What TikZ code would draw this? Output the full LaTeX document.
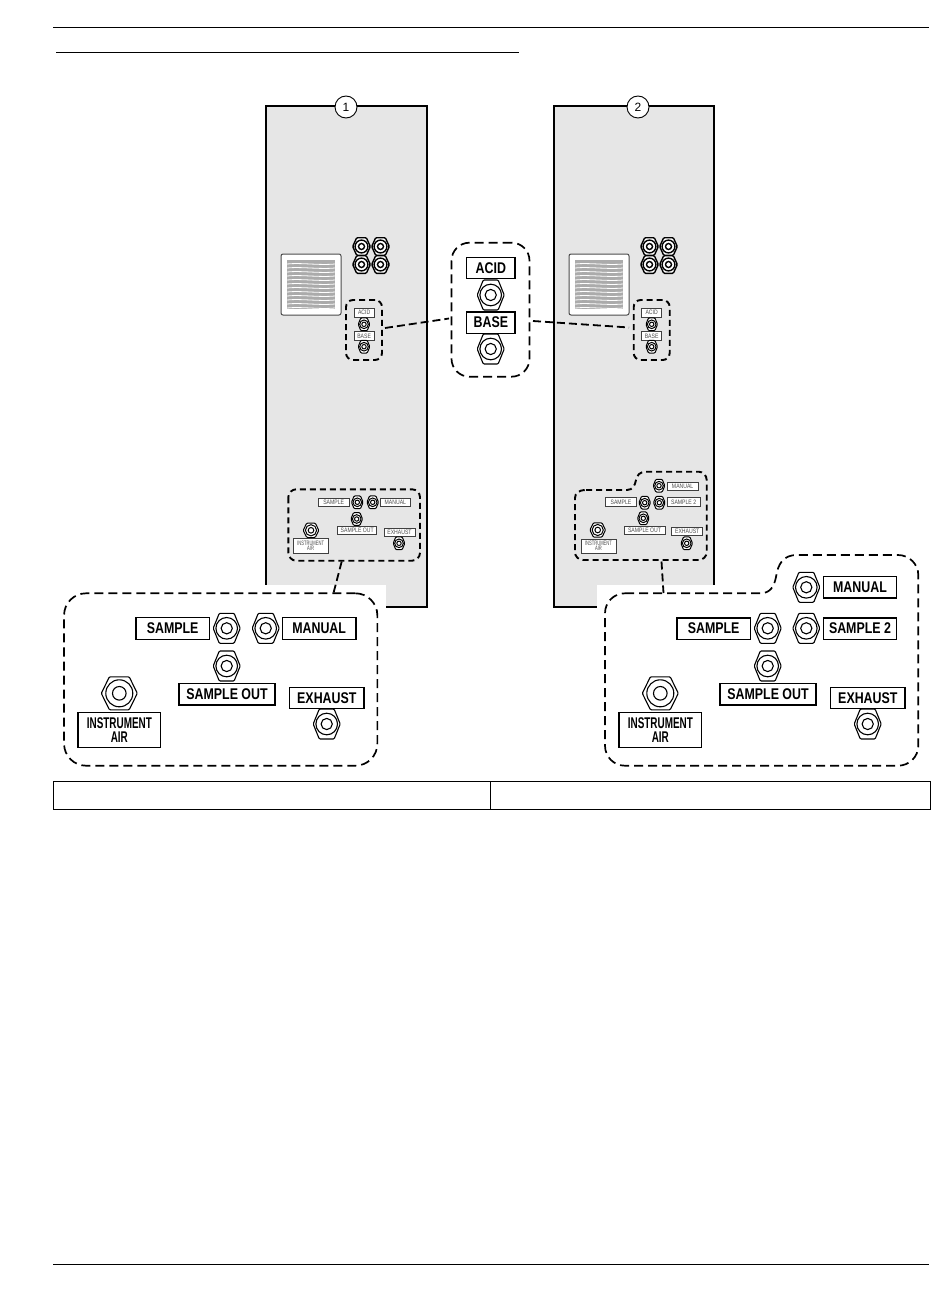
\documentclass[tikz,border=0pt]{standalone}
\usepackage{fontspec}
\usepackage{graphicx}
\setmainfont{Liberation Sans}
\definecolor{panelgray}{HTML}{E6E6E6}
\definecolor{grillgray}{HTML}{ABABAB}
\tikzset{
  panelbox/.style={draw=black,line width=1.5pt,fill=panelgray},
  bigtag/.style={draw=black,line width=1.5pt,fill=white,inner sep=0pt,align=center,font=\fontsize{15.5}{14.5}\selectfont\bfseries},
  smalltag/.style={draw=black!75,line width=.8pt,fill=white,inner sep=0pt,align=center,text=black!70,font=\fontsize{6.4}{6}\selectfont},
  bigdash/.style={draw=black,line width=1.7pt,dash pattern=on 9pt off 5pt},
  smalldash/.style={draw=black,line width=1.9pt,dash pattern=on 6pt off 4pt},
  leader/.style={draw=black,line width=1.8pt,dash pattern=on 8pt off 4pt},
  rulethin/.style={draw=black,line width=.8pt},
  callnum/.style={circle,draw=black,line width=.9pt,fill=white,minimum size=22pt,inner sep=0pt,font=\fontsize{12}{12}\selectfont},
}
% tag box: name, left, top, right, bottom, style, text
\newcommand{\tagbox}[7]{\node[#6,minimum width=#4pt-#2pt,minimum height=#5pt-#3pt,anchor=center] (#1) at ({(#2+#4)/2},{(#3+#5)/2}) {#7};}
\newcommand{\nar}[1]{\scalebox{.8}[1]{#1}}
\newcommand{\narr}[1]{\scalebox{.64}[1]{#1}}
% fitting: name, x, y, half width, half height, outer r, inner r, line width
\newcommand{\fitg}[8]{%
  \coordinate (#1) at (#2,#3);
  \begin{scope}[shift={(#2,#3)},line width=#8pt]
    \draw[fill=white,rounded corners=1pt] (-#4,0) -- ({-#4*.55},-#5) -- ({#4*.55},-#5) -- (#4,0) -- ({#4*.55},#5) -- ({-#4*.55},#5) -- cycle;
    \draw (0,0) circle (#6);
    \draw (0,0) circle (#7);
  \end{scope}}
\newcommand{\bigfit}[3]{\fitg{#1}{#2}{#3}{13.5}{15}{10.8}{5.6}{1.1}}
\newcommand{\airfit}[3]{\fitg{#1}{#2}{#3}{18}{16.5}{13.5}{6.8}{1.1}}
\newcommand{\smfit}[3]{\fitg{#1}{#2}{#3}{5.8}{6.4}{4.3}{2.2}{1}}
\newcommand{\smair}[3]{\fitg{#1}{#2}{#3}{7.8}{7.2}{5.6}{2.8}{1}}
\newcommand{\quadfit}[3]{\fitg{#1}{#2}{#3}{8.8}{8.8}{6.4}{3}{1.4}}
% grille: name, left x
\newcommand{\grille}[2]{%
  \node[draw=black!70,line width=1pt,fill=white,rounded corners=2pt,minimum width=60pt,minimum height=61pt,inner sep=0pt] (#1) at (#2+30,284.5) {};
  \fill[grillgray] (#2+6,260) rectangle (#2+54,309);
  \foreach \yy in {264,268,...,308}{
    \draw[white,line width=.8pt] (#2+6,\yy) .. controls (#2+20,\yy-1.5) and (#2+38,\yy+1.5) .. (#2+54,\yy);
  }}
\begin{document}
\begin{tikzpicture}[x=1pt,y=-1pt]
\useasboundingbox (0,0) rectangle (950,1292);
\fill[white] (0,0) rectangle (950,1292);
% page rules
\coordinate (ruleTopL) at (53,27); \coordinate (ruleTopR) at (929,27);
\coordinate (ruleSubL) at (56,52); \coordinate (ruleSubR) at (519,52);
\coordinate (ruleBotL) at (53,1264); \coordinate (ruleBotR) at (929,1264);
\draw[rulethin] (ruleTopL) -- (ruleTopR);
\draw[rulethin] (ruleSubL) -- (ruleSubR);
\draw[rulethin] (ruleBotL) -- (ruleBotR);
% panels
\draw[panelbox] (266,106) rectangle (427,607);
\draw[panelbox] (554,106) rectangle (714,607);
\node[callnum] (numA) at (346,107) {1};
\node[callnum] (numB) at (638,107) {2};
% white masks behind callouts
\fill[white] (60,585) rectangle (386,770);
\fill[white] (597,585) rectangle (770,770);
% grilles
\grille{grillA}{281}
\grille{grillB}{569}
% quad fittings
\quadfit{qa}{361.5}{246.5}\quadfit{qb}{380.5}{246.5}\quadfit{qc}{361.5}{264.5}\quadfit{qd}{380.5}{264.5}
\quadfit{qe}{649.5}{246.5}\quadfit{qf}{668.5}{246.5}\quadfit{qg}{649.5}{264.5}\quadfit{qh}{668.5}{264.5}
% small acid/base left
\tagbox{sAcidA}{354}{308.3}{374.3}{317}{smalltag}{\nar{ACID}}
\smfit{fAcidA}{364}{324.3}
\tagbox{sBaseA}{354}{331.7}{374.3}{340}{smalltag}{\nar{BASE}}
\smfit{fBaseA}{364}{346.7}
\node[smalldash,rounded corners=7pt,minimum width=36pt,minimum height=60pt,inner sep=0pt] (abA) at (364,330) {};
% small acid/base right
\tagbox{sAcidB}{641.5}{308.3}{661.8}{317}{smalltag}{\nar{ACID}}
\smfit{fAcidB}{651.7}{324.3}
\tagbox{sBaseB}{641.5}{331.7}{661.8}{340}{smalltag}{\nar{BASE}}
\smfit{fBaseB}{651.7}{346.7}
\node[smalldash,rounded corners=7pt,minimum width=36pt,minimum height=60pt,inner sep=0pt] (abB) at (651.7,330) {};
% centre callout
\node[bigdash,rounded corners=18pt,minimum width=78pt,minimum height=134pt,inner sep=0pt] (abBig) at (490.5,309.7) {};
\tagbox{cAcid}{466.7}{257.7}{515}{278.7}{bigtag}{\nar{ACID}}
\bigfit{fAcidC}{490.7}{295}
\tagbox{cBase}{466.7}{312}{515}{333.3}{bigtag}{\nar{BASE}}
\bigfit{fBaseC}{490.7}{349}
\coordinate (lA1) at (385,328); \coordinate (lA2) at (449,318.5);
\coordinate (lB1) at (533,321); \coordinate (lB2) at (629,327.5);
\draw[leader] (lA1) -- (lA2);
\draw[leader] (lB1) -- (lB2);
% small lower group left
\draw[smalldash,rounded corners=8pt] (288.3,489.3) rectangle (420,560.7);
\tagbox{sSampleA}{318.3}{498.3}{349}{506.5}{smalltag}{\nar{SAMPLE}}
\smfit{fSampleA}{357.3}{502.3}
\smfit{fManualA}{372.7}{502.3}
\tagbox{sManualA}{380}{498.3}{410.7}{506.5}{smalltag}{\nar{MANUAL}}
\smfit{fOutA}{356.7}{519}
\tagbox{sOutA}{337.7}{526.3}{376.7}{534.5}{smalltag}{\nar{SAMPLE OUT}}
\smair{fAirA}{311}{530.3}
\tagbox{sAirA}{293.3}{538.7}{328}{553}{smalltag}{\narr{INSTRUMENT}\\[-.5pt]\narr{AIR}}
\tagbox{sExA}{384}{528}{415}{536.2}{smalltag}{\nar{EXHAUST}}
\smfit{fExA}{399}{543.3}
% small lower group right
\draw[smalldash] (586,490) -- (627,490) .. controls (633,490) and (635,485) .. (636,480) .. controls (637,475) and (640,471.7) .. (646,471.7) -- (698.7,471.7) .. controls (703,471.7) and (706.7,475.5) .. (706.7,480) -- (706.7,552) .. controls (706.7,556.5) and (703,560) .. (698.7,560) -- (583,560) .. controls (578.5,560) and (575,556.5) .. (575,552) -- (575,498) .. controls (575,493.5) and (578.5,490) .. (586,490) -- cycle;
\tagbox{sManualB}{667.3}{482}{698}{490.2}{smalltag}{\nar{MANUAL}}
\smfit{fManualB}{659}{485.7}
\tagbox{sSampleB}{605.3}{497.7}{636.7}{506}{smalltag}{\nar{SAMPLE}}
\smfit{fSampleB}{644.7}{502.7}
\smfit{fSampleTwoB}{659.3}{502.7}
\tagbox{sTwoB}{667.3}{497.7}{700}{506}{smalltag}{\nar{SAMPLE 2}}
\smfit{fOutB}{643.3}{518.3}
\tagbox{sOutB}{624}{526}{665}{534.2}{smalltag}{\nar{SAMPLE OUT}}
\smair{fAirB}{597.7}{530}
\tagbox{sAirB}{581}{539}{616}{553}{smalltag}{\narr{INSTRUMENT}\\[-.5pt]\narr{AIR}}
\tagbox{sExB}{671.7}{527.3}{702.7}{535.5}{smalltag}{\nar{EXHAUST}}
\smfit{fExB}{686.7}{543.3}
% left big callout
\coordinate (lC1) at (341.7,561.5); \coordinate (lC2) at (333.5,593);
\draw[leader] (lC1) -- (lC2);
\node[bigdash,rounded corners=22pt,minimum width=313.3pt,minimum height=172.4pt,inner sep=0pt] (bigA) at (220.7,679.5) {};
\tagbox{tSampleA}{136}{617.7}{209.3}{639.3}{bigtag}{\nar{SAMPLE}}
\bigfit{gSampleA}{226.7}{628.3}
\bigfit{gManualA}{265.7}{628.3}
\tagbox{tManualA}{282.3}{617.7}{356}{639.3}{bigtag}{\nar{MANUAL}}
\bigfit{gOutA}{226.7}{666}
\tagbox{tOutA}{179}{683.3}{275}{705}{bigtag}{\nar{SAMPLE OUT}}
\airfit{gAirA}{119.3}{693.3}
\tagbox{tAirA}{78}{712.7}{160.7}{747.3}{bigtag}{\narr{INSTRUMENT}\\[-1pt]\narr{AIR}}
\tagbox{tExA}{289.7}{687.3}{364}{708.7}{bigtag}{\nar{EXHAUST}}
\bigfit{gExA}{326.7}{724}
% right big callout
\coordinate (lD1) at (661.5,561.5); \coordinate (lD2) at (663.5,593);
\draw[leader] (lD1) -- (lD2);
\draw[bigdash] (625,593.3) -- (760,593.3) .. controls (770,593.3) and (774,587) .. (776,577) .. controls (778,564) and (783,555) .. (797,555) -- (898,555) .. controls (909,555) and (918.3,564) .. (918.3,575) -- (918.3,745.7) .. controls (918.3,757) and (909,765.7) .. (898,765.7) -- (625,765.7) .. controls (614,765.7) and (605,757) .. (605,745.7) -- (605,613.3) .. controls (605,602) and (614,593.3) .. (625,593.3) -- cycle;
\tagbox{tManualB}{823.3}{576.7}{896.7}{598}{bigtag}{\nar{MANUAL}}
\bigfit{gManualB}{806.3}{587.3}
\tagbox{tSampleB}{677}{618}{750.3}{639.3}{bigtag}{\nar{SAMPLE}}
\bigfit{gSampleB}{767.7}{628.3}
\bigfit{gTwoB}{806.3}{628.3}
\tagbox{tTwoB}{823.3}{618}{896.7}{639.3}{bigtag}{\nar{SAMPLE 2}}
\bigfit{gOutB}{767.7}{666}
\tagbox{tOutB}{720}{683.3}{816}{705}{bigtag}{\nar{SAMPLE OUT}}
\airfit{gAirB}{660.3}{693.3}
\tagbox{tAirB}{619}{712.7}{701.7}{747.3}{bigtag}{\narr{INSTRUMENT}\\[-1pt]\narr{AIR}}
\tagbox{tExB}{830.7}{687.3}{905}{708.7}{bigtag}{\nar{EXHAUST}}
\bigfit{gExB}{867.7}{724}
% table
\draw[black,line width=1pt] (53,781) rectangle (930,809);
\coordinate (tabT) at (490.5,781); \coordinate (tabB) at (490.5,809);
\draw[black,line width=1pt] (tabT) -- (tabB);
\end{tikzpicture}
\end{document}
